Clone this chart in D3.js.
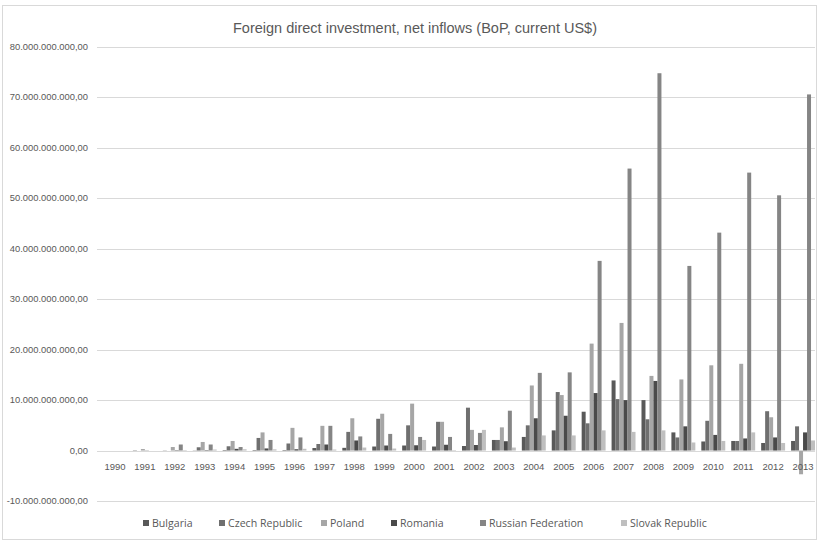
<!DOCTYPE html>
<html lang="en">
<head>
<meta charset="UTF-8">
<title>Foreign direct investment, net inflows</title>
<script src="https://d3js.org/d3.v7.min.js"></script>
<style>
  body { margin: 0; background: #fff; }
  text { font-family: "Liberation Sans", Arial, sans-serif; fill: #595959; }
</style>
</head>
<body>
<svg id="chart" width="819" height="542"></svg>
<script>
// values in billions of current US$
var years = ["1990","1991","1992","1993","1994","1995","1996","1997","1998","1999","2000","2001",
             "2002","2003","2004","2005","2006","2007","2008","2009","2010","2011","2012","2013"];
var countries = ["Bulgaria", "Czech Republic", "Poland", "Romania", "Russian Federation", "Slovak Republic"];
var colors = ["#595959", "#6f6f6f", "#a6a6a6", "#4a4a4a", "#858585", "#bfbfbf"];

var bulgaria = [0, 0.06, 0.04, 0.04, 0.1, 0.1, 0.1, 0.5, 0.54, 0.8, 1.0, 0.8, 0.9, 2.1, 2.7, 4.0, 7.7, 13.9, 10.0, 3.6, 1.8, 1.9, 1.5, 1.9];
var czech    = [0, 0, 0, 0.65, 0.85, 2.5, 1.4, 1.3, 3.7, 6.3, 5.0, 5.7, 8.5, 2.1, 5.0, 11.6, 5.4, 10.2, 6.2, 2.6, 5.9, 1.9, 7.8, 4.8];
var poland   = [0, 0.3, 0.7, 1.7, 1.9, 3.6, 4.5, 4.9, 6.4, 7.3, 9.3, 5.7, 4.1, 4.6, 12.9, 11.0, 21.2, 25.3, 14.8, 14.1, 16.9, 17.2, 6.6, -4.7];
var romania  = [0, 0.04, 0.08, 0.09, 0.34, 0.42, 0.26, 1.2, 2.0, 1.0, 1.05, 1.15, 1.1, 1.85, 6.4, 6.9, 11.4, 10.0, 13.8, 4.8, 3.1, 2.4, 2.6, 3.6];
var russia   = [0, 0, 1.2, 1.2, 0.7, 2.1, 2.6, 4.9, 2.8, 3.3, 2.7, 2.7, 3.5, 7.9, 15.4, 15.5, 37.6, 55.9, 74.8, 36.6, 43.2, 55.1, 50.6, 70.6];
var slovak   = [0, 0, 0.1, 0.2, 0.25, 0.24, 0.35, 0.2, 0.6, 0.4, 2.1, 0.1, 4.1, 0.6, 3.0, 3.0, 4.0, 3.7, 4.0, 1.6, 1.9, 3.6, 1.5, 2.0];
var yTicks = [-10, 0, 10, 20, 30, 40, 50, 60, 70, 80];

var series = [bulgaria, czech, poland, romania, russia, slovak];

var svg = d3.select("#chart");

// outer chart border
svg.append("rect")
  .attr("x", 2.5).attr("y", 5.5)
  .attr("width", 814).attr("height", 534)
  .attr("fill", "none")
  .attr("stroke", "#d9d9d9");

svg.append("text")
  .attr("x", 415).attr("y", 33)
  .attr("text-anchor", "middle")
  .style("font-size", "14.5px")
  .text("Foreign direct investment, net inflows (BoP, current US$)");

var x = d3.scaleBand().domain(years).range([100, 818]).paddingInner(0.2).paddingOuter(0.1);
var xs = d3.scaleBand().domain(countries).range([0, x.bandwidth()]);
var y = d3.scaleLinear().domain([-10, 80]).range([501, 47]);

var fmt = d3.formatLocale({ decimal: ",", thousands: ".", grouping: [3], currency: ["", ""], minus: "-" }).format(",.2f");

// gridlines
svg.append("g")
  .selectAll("line")
  .data(yTicks)
  .join("line")
    .attr("x1", 97).attr("x2", 815)
    .attr("y1", function(d) { return Math.round(y(d)) + 0.5; })
    .attr("y2", function(d) { return Math.round(y(d)) + 0.5; })
    .attr("stroke", "#d9d9d9");

// y labels
svg.append("g")
  .selectAll("text")
  .data(yTicks)
  .join("text")
    .attr("x", 88)
    .attr("y", function(d) { return y(d) + 3; })
    .attr("text-anchor", "end")
    .style("font-size", "9.4px")
    .text(function(d) { return fmt(d * 1e9); });

// bars
var groups = svg.append("g")
  .selectAll("g")
  .data(years)
  .join("g")
    .attr("transform", function(d) { return "translate(" + x(d) + ",0)"; });

groups.selectAll("rect")
  .data(function(d, i) { return countries.map(function(c, j) { return { c: c, v: series[j][i], j: j }; }); })
  .join("rect")
    .attr("x", function(d) { return xs(d.c); })
    .attr("width", xs.bandwidth())
    .attr("y", function(d) { return y(Math.max(0, d.v)); })
    .attr("height", function(d) { return Math.abs(y(d.v) - y(0)); })
    .attr("fill", function(d) { return colors[d.j]; });

// category labels
svg.append("g")
  .selectAll("text")
  .data(years)
  .join("text")
    .attr("x", function(d) { return x(d) + x.bandwidth() / 2; })
    .attr("y", 470)
    .attr("text-anchor", "middle")
    .style("font-size", "9.5px")
    .text(function(d) { return d; });

// legend
var legendX = [143, 219, 321, 391, 480, 621];
var legend = svg.append("g")
  .selectAll("g")
  .data(countries)
  .join("g")
    .attr("transform", function(d, i) { return "translate(" + legendX[i] + ",527)"; });

legend.append("rect")
  .attr("x", 0).attr("y", -7)
  .attr("width", 6).attr("height", 6)
  .attr("fill", function(d, i) { return colors[i]; });

legend.append("text")
  .attr("x", 9).attr("y", 0)
  .style("font-size", "10.6px")
  .style("font-family", "'Open Sans', sans-serif")
  .text(function(d) { return d; });
</script>
</body>
</html>
